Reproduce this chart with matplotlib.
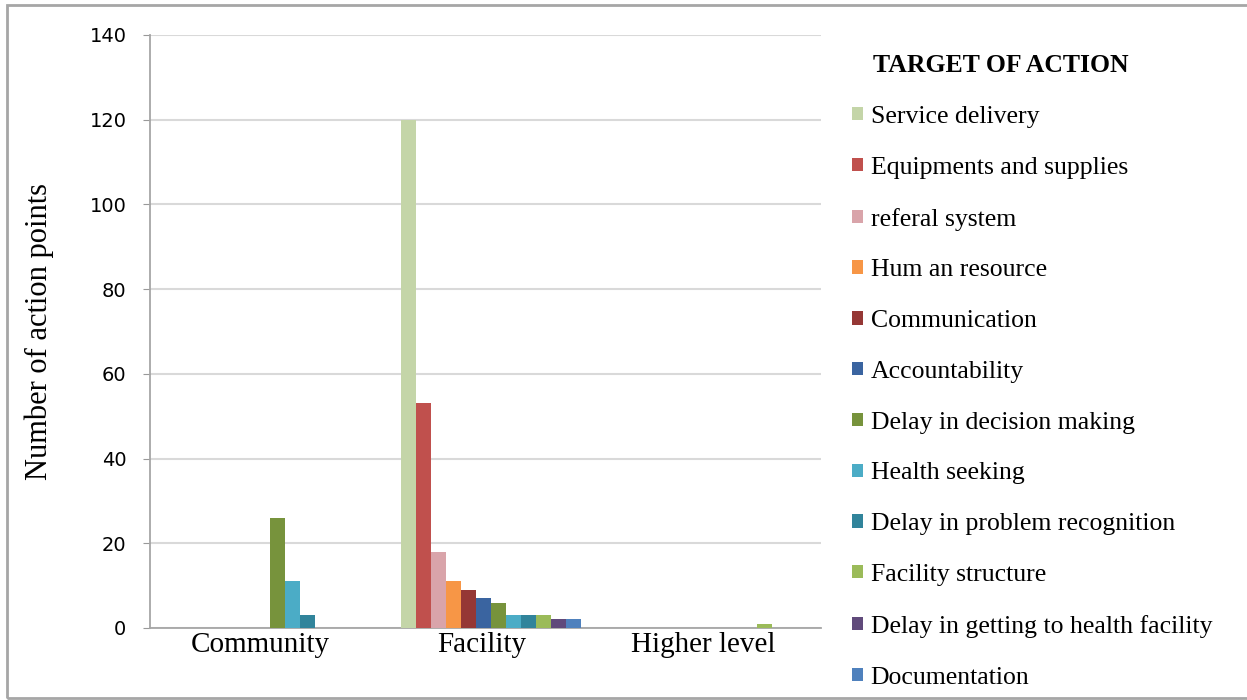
import numpy as np
import matplotlib.pyplot as plt
from matplotlib.patches import Rectangle

# categories on the x axis
levels = ["Community", "Facility", "Higher level"]

# series (target of action) and their counts per level
targets = [
    "Service delivery",
    "Equipments and supplies",
    "referal system",
    "Hum an resource",
    "Communication",
    "Accountability",
    "Delay in decision making",
    "Health seeking",
    "Delay in problem recognition",
    "Facility structure",
    "Delay in getting to health facility",
    "Documentation",
]
service_delivery = [0, 120, 0]
equipments = [0, 53, 0]
referal = [0, 18, 0]
human_resource = [0, 11, 0]
communication = [0, 9, 0]
accountability = [0, 7, 0]
delay_decision = [26, 6, 0]
health_seeking = [11, 3, 0]
delay_recognition = [3, 3, 0]
facility_structure = [0, 3, 1]
delay_getting = [0, 2, 0]
documentation = [0, 2, 0]

series = [service_delivery, equipments, referal, human_resource, communication,
          accountability, delay_decision, health_seeking, delay_recognition,
          facility_structure, delay_getting, documentation]

colors = ["#C4D5A8", "#C0504D", "#D9A4AA", "#F79646", "#953735", "#3A64A0",
          "#77933C", "#4BACC6", "#31849B", "#9BBB59", "#604A7B", "#4F81BD"]

serif = "Liberation Serif"

fig = plt.figure(figsize=(12.47, 7), dpi=100)
ax = fig.add_axes([0.1203, 0.1029, 0.5377, 0.8471])

x = np.arange(len(levels))
n = len(series)
w = 0.068
for i, (vals, lab, c) in enumerate(zip(series, targets, colors)):
    ax.bar(x + (i - (n - 1) / 2) * w, vals, width=w, color=c, label=lab, zorder=3)

ax.set_xlim(-0.54, 2.49)
ax.set_ylim(0, 140)
ax.set_yticks(range(0, 141, 20))
ax.yaxis.grid(True, color="#D9D9D9", linewidth=1.5, zorder=0)
ax.set_xticks(x - 0.04)
ax.set_xticklabels(levels, fontfamily=serif, fontsize=21)
ax.tick_params(axis="x", length=0, pad=3)
ax.tick_params(axis="y", length=5, color="#999999", labelsize=14, pad=12)
for s in ["top", "right"]:
    ax.spines[s].set_visible(False)
for s in ["left", "bottom"]:
    ax.spines[s].set_color("#A6A6A6")
    ax.spines[s].set_linewidth(1.3)
ax.set_ylabel("Number of action points", fontfamily=serif, fontsize=22)
ax.yaxis.set_label_coords(-0.143, 0.5)

fig.text(873 / 1247, 1 - 65 / 700, "TARGET OF ACTION", family=serif, weight="bold",
         size=18.5, ha="left", va="center")
leg = fig.legend(loc="upper left", bbox_to_anchor=(852 / 1247, 1 - 106 / 700), frameon=False,
                 prop={"family": serif, "size": 18.5},
                 handlelength=0.42, handleheight=0.42, handletextpad=0.3,
                 labelspacing=1.12, borderaxespad=0, borderpad=0)

fig.patches.append(Rectangle((0.0056, 0.003), 1.0, 0.99, transform=fig.transFigure,
                             fill=False, edgecolor="#A6A6A6", linewidth=2))

plt.savefig("out.png", dpi=100)
